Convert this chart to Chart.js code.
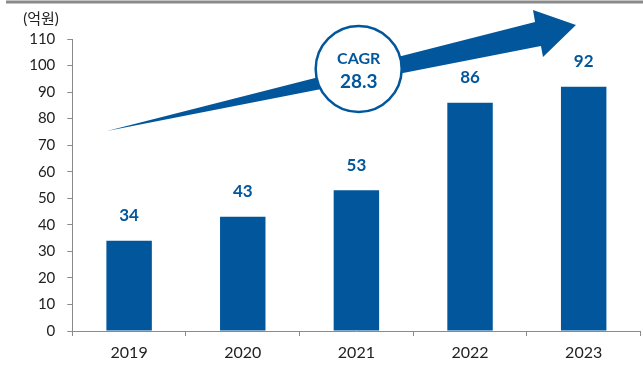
<!DOCTYPE html>
<html>
<head>
<meta charset="utf-8">
<script src="https://cdn.jsdelivr.net/npm/chart.js@4/dist/chart.umd.min.js"></script>
<style>
  html, body { margin: 0; padding: 0; background: #fff; }
  #wrap { width: 643px; height: 365px; position: relative; }
</style>
</head>
<body>
<div id="wrap"><canvas id="c" width="643" height="365"></canvas></div>
<script>
// Market size by year (unit: 100 million won)
const years = ['2019', '2020', '2021', '2022', '2023'];
const sales = [34, 43, 53, 86, 92];
const yTicks = [0, 10, 20, 30, 40, 50, 60, 70, 80, 90, 100, 110];
const unitLabel = '(억원)';
const cagrTitle = 'CAGR';
const cagrValue = '28.3';

const BLUE = '#02579c';
const FONT = 'Lato, "Noto Sans CJK KR", sans-serif';

// Growth arrow outline, in (category index, value) coordinates
const arrowShape = [
  [-0.195, 75.3],   // tail
  [3.572, 116.4],   // shaft top at head
  [3.554, 120.9],   // head upper corner
  [3.932, 115.3],   // tip
  [3.642, 103.2],   // head lower corner
  [3.624, 107.4]    // shaft bottom at head
];
const badgeAnchor = [2.02, 98.7];

const decor = {
  id: 'decor',
  beforeDraw(chart) {
    const ctx = chart.ctx;
    ctx.save();
    // top rule
    ctx.strokeStyle = '#8a8a8a';
    ctx.lineWidth = 3;
    ctx.beginPath();
    ctx.moveTo(6, 2);
    ctx.lineTo(643, 2);
    ctx.stroke();
    // unit label
    ctx.fillStyle = '#222';
    ctx.font = '15px ' + FONT;
    ctx.textAlign = 'center';
    ctx.textBaseline = 'middle';
    ctx.fillText(unitLabel, 41, 19);
    ctx.restore();
  },
  afterDatasetsDraw(chart) {
    const ctx = chart.ctx;
    const xs = chart.scales.x, ys = chart.scales.y;
    ctx.save();
    // value labels
    ctx.fillStyle = BLUE;
    ctx.font = 'bold 17px ' + FONT;
    ctx.textAlign = 'center';
    ctx.textBaseline = 'middle';
    sales.forEach((v, i) => {
      ctx.fillText(String(v), xs.getPixelForValue(i), ys.getPixelForValue(v) - 25);
    });
    // growth arrow
    ctx.beginPath();
    arrowShape.forEach(([i, v], k) => {
      const px = xs.getPixelForValue(i), py = ys.getPixelForValue(v);
      if (k === 0) ctx.moveTo(px, py); else ctx.lineTo(px, py);
    });
    ctx.closePath();
    ctx.fillStyle = BLUE;
    ctx.fill();
    // CAGR badge
    const cx = xs.getPixelForValue(badgeAnchor[0]);
    const cy = ys.getPixelForValue(badgeAnchor[1]);
    ctx.beginPath();
    ctx.arc(cx, cy, 43, 0, Math.PI * 2);
    ctx.fillStyle = '#fff';
    ctx.fill();
    ctx.lineWidth = 2.5;
    ctx.strokeStyle = BLUE;
    ctx.stroke();
    ctx.fillStyle = BLUE;
    ctx.font = 'bold 16px ' + FONT;
    ctx.fillText(cagrTitle, cx, cy - 10);
    ctx.font = 'bold 19px ' + FONT;
    ctx.fillText(cagrValue, cx, cy + 13);
    ctx.restore();
  }
};

new Chart(document.getElementById('c'), {
  type: 'bar',
  data: {
    labels: years,
    datasets: [{
      data: sales,
      backgroundColor: BLUE,
      categoryPercentage: 1,
      barPercentage: 0.4
    }]
  },
  options: {
    responsive: false,
    animation: false,
    layout: { padding: { left: 0, right: 2.5, top: 39, bottom: 0 } },
    plugins: { legend: { display: false }, tooltip: { enabled: false } },
    scales: {
      x: {
        grid: { display: true, drawOnChartArea: false, offset: true, tickLength: 5, color: '#8a8a8a' },
        border: { color: '#8a8a8a', width: 1 },
        ticks: { color: '#222', font: { family: FONT, size: 16 }, padding: 7 },
        afterFit(s) { s.height = 34; }
      },
      y: {
        min: 0, max: 110,
        afterBuildTicks(s) { s.ticks = yTicks.map(v => ({ value: v })); },
        grid: { display: true, drawOnChartArea: false, tickLength: 5, color: '#8a8a8a' },
        border: { color: '#8a8a8a', width: 1 },
        ticks: { color: '#222', font: { family: FONT, size: 15 }, padding: 12 },
        afterFit(s) { s.width = 72.3; }
      }
    }
  },
  plugins: [decor]
});
</script>
</body>
</html>
